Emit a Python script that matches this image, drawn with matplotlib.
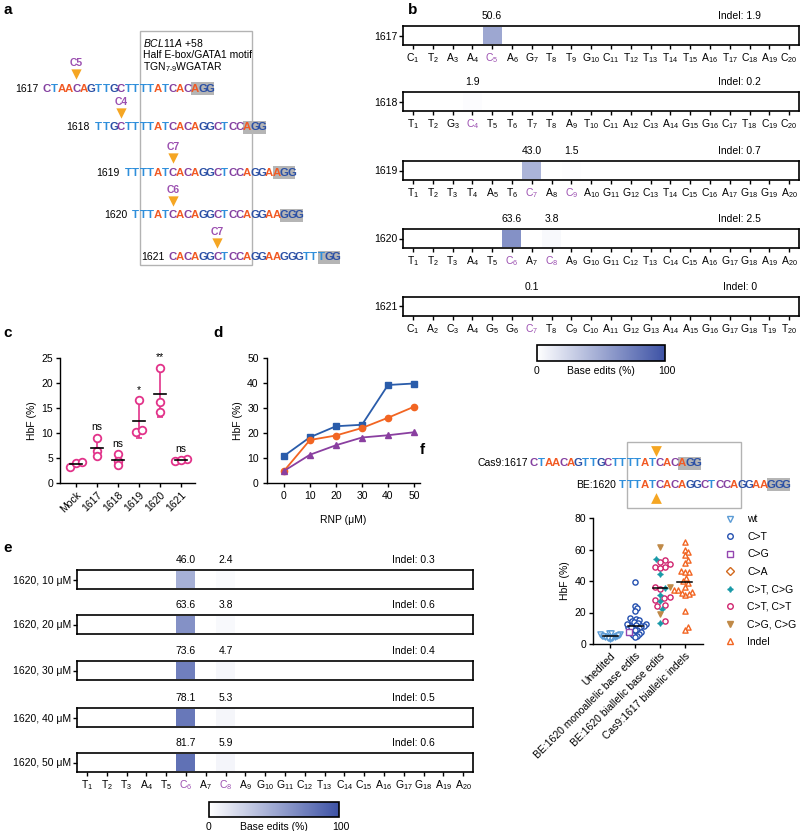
import numpy as np
import matplotlib
matplotlib.use("Agg")
import matplotlib.pyplot as plt
from matplotlib.colors import LinearSegmentedColormap, Normalize
from matplotlib.cm import ScalarMappable
from matplotlib.patches import Rectangle
from matplotlib.lines import Line2D

plt.rcParams['font.family'] = ['Liberation Sans', 'DejaVu Sans']
plt.rcParams['font.size'] = 7.5
plt.rcParams['mathtext.fontset'] = 'custom'
plt.rcParams['mathtext.rm'] = 'Liberation Sans'
plt.rcParams['mathtext.it'] = 'Liberation Sans:italic'
plt.rcParams['mathtext.default'] = 'regular'
plt.rcParams['axes.linewidth'] = 1.0

# ---------------- data ----------------
locus = "CTAACAGTTGCTTTTATCACAGGCTCCAGGAAGGGTTTGG"
guides = ["1617", "1618", "1619", "1620", "1621"]
protospacers = ["CTAACAGTTGCTTTTATCAC", "TTGCTTTTATCACAGGCTCC",
                "TTTTATCACAGGCTCCAGGA", "TTTATCACAGGCTCCAGGAA",
                "CACAGGCTCCAGGAAGGGTT"]
pams = ["AGG", "AGG", "AGG", "GGG", "TGG"]
target_c = [5, 4, 7, 6, 7]

# panel b: base edits (%) per position, indels (%)
b_edit_pos = [[5], [4], [7, 9], [6, 8], [7]]
b_edit_val = [[50.6], [1.9], [43.0, 1.5], [63.6, 3.8], [0.1]]
b_indel = ["1.9", "0.2", "0.7", "2.5", "0"]

# panel c: HbF (%)
c_groups = ["Mock", "1617", "1618", "1619", "1620", "1621"]
c_values = [[3.3, 4.0, 4.2], [9.1, 6.5, 5.4], [5.8, 4.5, 3.6],
            [16.6, 10.2, 10.7], [23.1, 16.2, 14.2], [4.4, 4.8, 4.6]]
c_sig = ["", "ns", "ns", "*", "**", "ns"]

# panel d: HbF vs RNP dose
rnp = [0, 10, 20, 30, 40, 50]
d_blue = [10.8, 18.3, 22.7, 23.3, 39.2, 39.8]
d_orange = [4.8, 17.2, 19.0, 22.0, 26.1, 30.5]
d_purple = [4.8, 11.3, 15.1, 18.2, 19.1, 20.3]

# panel e: 1620 dose series
e_rnp = [10, 20, 30, 40, 50]
e_c6 = [46.0, 63.6, 73.6, 78.1, 81.7]
e_c8 = [2.4, 3.8, 4.7, 5.3, 5.9]
e_indel = ["0.3", "0.6", "0.4", "0.5", "0.6"]

# panel f: clonal HbF (%)
f_groups = ["Unedited", "BE:1620 monoallelic base edits",
            "BE:1620 biallelic base edits", "Cas9:1617 biallelic indels"]
unedited_wt = [3.2, 3.8, 4.1, 4.4, 4.6, 4.9, 5.1, 5.3, 5.6, 6.0, 6.4,
               6.9, 7.3, 3.5, 4.2, 4.8, 5.5, 6.2, 3.9, 4.5, 5.0, 7.0]
mono_ct = [39.2, 24.4, 22.6, 20.8, 16.8, 16.0, 15.2, 14.4, 14.0, 13.2,
           12.8, 12.0, 11.6, 11.2, 11.0, 10.4, 10.0, 9.2, 8.6, 7.8, 7.0,
           6.2, 5.4, 5.0, 4.6, 12.4, 10.8]
mono_cg = [7.6]
bi_ctct = [53.1, 52.0, 50.6, 49.2, 48.6, 48.0, 35.9, 35.2, 30.0, 28.2,
           25.0, 24.0, 14.5, 29.0]
bi_ctcg = [54.0, 44.2, 35.5, 30.8, 27.0, 22.5, 13.2]
bi_cgcg = [61.4, 36.5, 19.1]
cas9_indel = [64.5, 59.9, 58.2, 56.3, 53.5, 51.4, 46.5, 45.6, 45.4, 41.8,
              39.7, 38.6, 36.5, 34.4, 33.3, 31.8, 31.2, 34.0, 32.5, 21.2,
              10.6, 8.9]

# ---------------- styles ----------------
base_colors = {"A": "#f15a24", "C": "#8440a0", "G": "#2b50a5", "T": "#2f8fdb"}
hl_color = "#9b4fb0"
pink = "#e2338a"
cmap = LinearSegmentedColormap.from_list("edits", ["#ffffff", "#3d52a5"])
W, H = 800, 831
fig = plt.figure(figsize=(W / 100, H / 100), dpi=100)


def px_axes(x0, y0, x1, y1):
    return fig.add_axes([x0 / W, 1 - y1 / H, (x1 - x0) / W, (y1 - y0) / H])


ov = px_axes(0, 0, W, H)
ov.set_xlim(0, W)
ov.set_ylim(H, 0)
ov.axis("off")

for lab, (x, y) in zip("abcdef", [(3, 10), (408, 10), (3, 333), (213, 333),
                                  (3, 548), (420, 450)]):
    ov.text(x, y, lab, fontsize=11, fontweight="bold", va="center")

DX = 7.42


def draw_seq(x_left, y, seq, pam_len=3):
    n = len(seq)
    ov.add_patch(Rectangle((x_left + (n - pam_len) * DX, y - 6.5),
                           pam_len * DX, 13, color="#b5b5b5", lw=0))
    for i, ch in enumerate(seq):
        ov.text(x_left + (i + 0.5) * DX, y + 0.5, ch, color=base_colors[ch],
                ha="center", va="center", fontsize=8.2, fontweight="bold")


# ---------------- panel a ----------------
a_x0 = 43
row_y = [88, 127, 172, 215, 257]
ov.add_patch(Rectangle((140, 31), 112, 234, fill=False, ec="#b3b3b3", lw=1))
ov.text(143, 43, r"$\mathit{BCL11A}$ +58", va="center", fontsize=7.5)
ov.text(143, 55, "Half E-box/GATA1 motif", va="center", fontsize=7.5)
ov.text(143, 67, r"TGN$_{7\text{-}9}$WGATAR", va="center", fontsize=7.5)
for g, ps, pam, c, y in zip(guides, protospacers, pams, target_c, row_y):
    off = locus.find(ps)
    xs = a_x0 + off * DX
    draw_seq(xs, y, ps + pam)
    ov.text(xs - 5, y + 0.5, g, ha="right", va="center", fontsize=7.5)
    cx = xs + (c - 0.5) * DX
    ov.scatter([cx], [y - 14], marker="v", s=55, color="#f5a623", lw=0)
    ov.text(cx, y - 25, "C%d" % c, color=hl_color, ha="center",
            va="center", fontsize=7.5, fontweight="bold")


# ---------------- strips (b, e) ----------------
def strip(ax, seq, pos_list, val_list, indel, label, ticks=True):
    ax.set_xlim(0.5, 20.5)
    ax.set_ylim(0, 1)
    for p, v in zip(pos_list, val_list):
        ax.bar(p, 0.86, bottom=0.07, width=0.96, color=cmap(v / 100))
        ax.text(p, 1.55, "%.1f" % v, ha="center", va="center", fontsize=7.5)
    ax.text(17.5, 1.55, "Indel: " + indel, ha="center", va="center",
            fontsize=7.5)
    ax.set_yticks([0.5])
    ax.set_yticklabels([label], fontsize=7.5)
    ax.tick_params(axis="y", length=3, width=1, pad=1)
    for s in ax.spines.values():
        s.set_linewidth(1.2)
    if ticks:
        ax.set_xticks(range(1, 21))
        ax.set_xticklabels(["$%s_{%d}$" % (ch, i + 1)
                            for i, ch in enumerate(seq)], fontsize=7.5)
        for p in pos_list:
            ax.get_xticklabels()[p - 1].set_color(hl_color)
        ax.tick_params(axis="x", length=3, width=1, pad=1.5)
    else:
        ax.set_xticks([])


def colorbar_box(x0, y0, x1, y1):
    cax = px_axes(x0, y0, x1, y1)
    cb = fig.colorbar(ScalarMappable(Normalize(0, 100), cmap), cax=cax,
                      orientation="horizontal", ticks=[])
    cb.outline.set_linewidth(1.2)
    ty = y1 + 10
    ov.text(x0, ty, "0", ha="center", va="center", fontsize=7.5)
    ov.text((x0 + x1) / 2, ty, "Base edits (%)", ha="center", va="center",
            fontsize=7.5)
    ov.text(x1 + 2, ty, "100", ha="center", va="center", fontsize=7.5)


b_tops = [26, 92, 161, 229, 297]
for g, ps, pl, vl, ind, t in zip(guides, protospacers, b_edit_pos,
                                 b_edit_val, b_indel, b_tops):
    ax = px_axes(403, t, 799, t + 19)
    strip(ax, ps, pl, vl, ind, g)
colorbar_box(537, 345, 665, 361)

e_tops = [570, 615, 661, 708, 753]
for i, (r, t) in enumerate(zip(e_rnp, e_tops)):
    ax = px_axes(77, t, 473, t + 19)
    strip(ax, protospacers[3], [6, 8], [e_c6[i], e_c8[i]], e_indel[i],
          "1620, %d \u03bcM" % r, ticks=(i == len(e_rnp) - 1))
colorbar_box(209, 802, 339, 817)


# ---------------- panel c ----------------
def cluster_offsets(vals, tol, step):
    vals = np.asarray(vals, dtype=float)
    order = np.argsort(vals)
    off = np.zeros(len(vals))
    groups, cur = [], [order[0]]
    for a, b in zip(order[:-1], order[1:]):
        if vals[b] - vals[a] < tol:
            cur.append(b)
        else:
            groups.append(cur)
            cur = [b]
    groups.append(cur)
    for gr in groups:
        n = len(gr)
        for k, idx in enumerate(gr):
            off[idx] = (k - (n - 1) / 2) * step
    return off


axc = px_axes(60, 358, 195, 483)
for i, vals in enumerate(c_values):
    vals = np.array(vals)
    xo = i + cluster_offsets(vals, 0.8, 0.3)
    m, sd = vals.mean(), vals.std(ddof=1)
    axc.errorbar(i, m, yerr=sd, color=pink, capsize=2.5, lw=1.2,
                 capthick=1.2, zorder=2)
    axc.scatter(xo, vals, s=30, facecolor="white", edgecolor=pink,
                lw=1.3, zorder=3)
    axc.plot([i - 0.3, i + 0.3], [m, m], color="black", lw=1.2, zorder=4)
    if c_sig[i]:
        axc.text(i, max(vals.max(), m + sd) + 1.0, c_sig[i], ha="center",
                 va="bottom", fontsize=7.5)
axc.set_xlim(-0.76, 5.67)
axc.set_ylim(0, 25)
axc.set_yticks([0, 5, 10, 15, 20, 25])
axc.set_xticks(range(len(c_groups)))
axc.set_xticklabels(c_groups, rotation=45, ha="right",
                    rotation_mode="anchor")
axc.set_ylabel("HbF (%)", fontsize=7.5, labelpad=3)
for s in ["top", "right"]:
    axc.spines[s].set_visible(False)
axc.tick_params(length=3, width=1, pad=2)

# ---------------- panel d ----------------
axd = px_axes(267, 358, 420, 483)
axd.plot(rnp, d_blue, color="#2a5caa", marker="s", ms=4.5, lw=1.3)
axd.plot(rnp, d_orange, color="#f26522", marker="o", ms=4.5, lw=1.3)
axd.plot(rnp, d_purple, color="#8a3fa0", marker="^", ms=4.5, lw=1.3)
axd.set_xlim(-6.5, 52.3)
axd.set_ylim(0, 50)
axd.set_xticks(rnp)
axd.set_yticks([0, 10, 20, 30, 40, 50])
axd.set_xlabel("RNP (\u03bcM)", fontsize=7.5, labelpad=10)
axd.set_ylabel("HbF (%)", fontsize=7.5, labelpad=3)
for s in ["top", "right"]:
    axd.spines[s].set_visible(False)
axd.tick_params(length=3, width=1, pad=3)

# ---------------- panel f ----------------
ov.add_patch(Rectangle((627, 442), 114, 66, fill=False, ec="#b3b3b3", lw=1))
f_x0 = 530
draw_seq(f_x0, 463, protospacers[0] + pams[0])
ov.text(f_x0 - 2, 463.5, "Cas9:1617", ha="right", va="center", fontsize=7.5)
xs = f_x0 + locus.find(protospacers[3]) * DX
draw_seq(xs, 484, protospacers[3] + pams[3])
ov.text(xs - 3, 484.5, "BE:1620", ha="right", va="center", fontsize=7.5)
cut_x = f_x0 + 17 * DX
ov.scatter([cut_x], [451], marker="v", s=60, color="#f5a623", lw=0)
ov.scatter([cut_x], [498], marker="^", s=60, color="#f5a623", lw=0)

axf = px_axes(593, 518, 703, 644)
styles = {
    "wt": dict(marker="v", color="#5b9bd5", filled=False),
    "C>T": dict(marker="o", color="#2450b0", filled=False),
    "C>G": dict(marker="s", color="#9446b0", filled=False),
    "C>A": dict(marker="D", color="#d2691e", filled=False),
    "C>T, C>G": dict(marker=(4, 1, 0), color="#1a9aa8", filled=True),
    "C>T, C>T": dict(marker="o", color="#d0246e", filled=False),
    "C>G, C>G": dict(marker="v", color="#c08a48", filled=True),
    "Indel": dict(marker="^", color="#f26522", filled=False),
}
f_sets = [
    [("wt", unedited_wt)],
    [("C>T", mono_ct), ("C>G", mono_cg)],
    [("C>T, C>T", bi_ctct), ("C>T, C>G", bi_ctcg), ("C>G, C>G", bi_cgcg)],
    [("Indel", cas9_indel)],
]

# beeswarm in pixel space: y scale 126 px / 80 units, 25 px per category
Y_PX, X_PX, DIAM = 126 / 80, 25.0, 5.6


def beeswarm(vals, maxw=0.42):
    y = np.asarray(vals) * Y_PX
    xs_px = np.zeros(len(y))
    placed = []
    for idx in np.argsort(y):
        cands = [0.0]
        for j in placed:
            dy = abs(y[idx] - y[j])
            if dy < DIAM:
                dx = np.sqrt(DIAM ** 2 - dy ** 2)
                cands += [xs_px[j] + dx, xs_px[j] - dx]
        cands.sort(key=abs)
        for cx in cands:
            ok = all((cx - xs_px[j]) ** 2 + (y[idx] - y[j]) ** 2
                     >= DIAM ** 2 - 1e-6 for j in placed)
            if ok:
                xs_px[idx] = cx
                break
        placed.append(idx)
    off = xs_px / X_PX
    m = np.abs(off).max()
    if m > maxw:
        off *= maxw / m
    return off


for i, sets in enumerate(f_sets):
    allv = np.concatenate([np.asarray(v, dtype=float) for _, v in sets])
    off = beeswarm(allv)
    k = 0
    for name, v in sets:
        st = styles[name]
        n = len(v)
        fc = st["color"] if st["filled"] else "white"
        axf.scatter(i + off[k:k + n], v, marker=st["marker"], s=14,
                    facecolor=fc, edgecolor=st["color"], lw=1.0, zorder=3)
        k += n
    med = np.median(allv)
    axf.plot([i - 0.3, i + 0.3], [med, med], color="black", lw=1.1, zorder=4)
axf.set_xlim(-0.68, 3.72)
axf.set_ylim(0, 80)
axf.set_yticks([0, 20, 40, 60, 80])
axf.set_xticks(range(4))
axf.set_xticklabels(f_groups, rotation=45, ha="right", rotation_mode="anchor")
axf.set_ylabel("HbF (%)", fontsize=7.5, labelpad=3)
for s in ["top", "right"]:
    axf.spines[s].set_visible(False)
axf.tick_params(length=3, width=1, pad=2)

handles = []
for name, st in styles.items():
    fc = st["color"] if st["filled"] else "white"
    handles.append(Line2D([], [], ls="", marker=st["marker"], ms=4,
                          mfc=fc, mec=st["color"], mew=1.0))
axf.legend(handles, list(styles.keys()), loc="upper left",
           bbox_to_anchor=(720 / W, 1 - 510 / H),
           bbox_transform=fig.transFigure, frameon=False, handlelength=1.2,
           handletextpad=1.0, labelspacing=0.72, fontsize=7.5,
           borderaxespad=0)

fig.savefig("out.png", dpi=100)
